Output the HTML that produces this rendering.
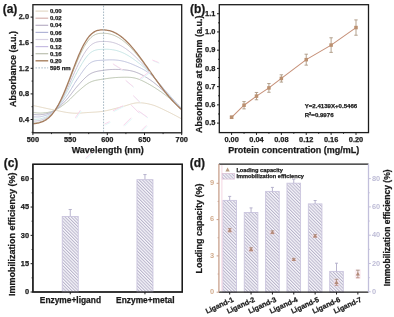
<!DOCTYPE html>
<html><head><meta charset="utf-8"><style>
html,body{margin:0;padding:0;background:#fff;width:394px;height:317px;overflow:hidden}
svg{display:block;filter:blur(0.3px);font-family:"Liberation Sans", sans-serif}
</style></head><body>
<svg width="394" height="317" viewBox="0 0 394 317">
<rect width="394" height="317" fill="#ffffff"/>
<defs><clipPath id="clipA"><rect x="33.5" y="5.3" width="147.6" height="126.9"/></clipPath><pattern id="hatch" patternUnits="userSpaceOnUse" width="2.25" height="2.25" patternTransform="rotate(-45)"><rect width="2.25" height="2.25" fill="#f7f6fb"/><rect x="0" y="0" width="1.0" height="2.25" fill="#b9b5cb"/></pattern><pattern id="hatchL" patternUnits="userSpaceOnUse" width="2.25" height="2.25" patternTransform="rotate(-45)"><rect width="2.25" height="2.25" fill="#f7f6fb"/><rect x="0" y="0" width="1.0" height="2.25" fill="#b9b5cb"/></pattern></defs>
<g clip-path="url(#clipA)" fill="none">
<polyline points="32.90,105.42 33.64,105.58 34.39,105.74 35.13,105.90 35.88,106.07 36.62,106.23 37.36,106.40 38.11,106.56 38.85,106.72 39.60,106.89 40.34,107.05 41.08,107.22 41.83,107.38 42.57,107.55 43.32,107.71 44.06,107.88 44.80,108.04 45.55,108.20 46.29,108.36 47.04,108.52 47.78,108.68 48.52,108.84 49.27,109.00 50.01,109.15 50.76,109.30 51.50,109.46 52.24,109.61 52.99,109.75 53.73,109.90 54.48,110.05 55.22,110.20 55.96,110.35 56.71,110.50 57.45,110.65 58.20,110.81 58.94,110.96 59.68,111.11 60.43,111.27 61.17,111.42 61.92,111.57 62.66,111.71 63.40,111.85 64.15,111.99 64.89,112.13 65.64,112.25 66.38,112.38 67.12,112.49 67.87,112.61 68.61,112.71 69.36,112.80 70.10,112.89 70.84,112.97 71.59,113.04 72.33,113.10 73.08,113.15 73.82,113.18 74.56,113.21 75.31,113.22 76.05,113.22 76.80,113.21 77.54,113.19 78.28,113.17 79.03,113.14 79.77,113.10 80.52,113.06 81.26,113.01 82.00,112.96 82.75,112.90 83.49,112.84 84.24,112.79 84.98,112.73 85.72,112.67 86.47,112.61 87.21,112.56 87.96,112.51 88.70,112.46 89.44,112.42 90.19,112.37 90.93,112.33 91.68,112.29 92.42,112.25 93.16,112.21 93.91,112.17 94.65,112.12 95.40,112.08 96.14,112.03 96.88,111.97 97.63,111.91 98.37,111.85 99.12,111.78 99.86,111.70 100.60,111.61 101.35,111.52 102.09,111.41 102.84,111.30 103.58,111.18 104.32,111.05 105.07,110.91 105.81,110.76 106.56,110.61 107.30,110.45 108.04,110.29 108.79,110.12 109.53,109.95 110.28,109.77 111.02,109.59 111.76,109.40 112.51,109.21 113.25,109.02 114.00,108.83 114.74,108.64 115.48,108.44 116.23,108.24 116.97,108.05 117.72,107.85 118.46,107.66 119.20,107.46 119.95,107.27 120.69,107.08 121.44,106.89 122.18,106.70 122.92,106.51 123.67,106.30 124.41,106.08 125.16,105.86 125.90,105.62 126.64,105.39 127.39,105.15 128.13,104.91 128.88,104.67 129.62,104.44 130.36,104.21 131.11,103.99 131.85,103.79 132.60,103.60 133.34,103.42 134.08,103.26 134.83,103.13 135.57,103.01 136.32,102.92 137.06,102.86 137.80,102.82 138.55,102.80 139.29,102.79 140.04,102.80 140.78,102.83 141.52,102.87 142.27,102.93 143.01,103.00 143.76,103.08 144.50,103.18 145.24,103.29 145.99,103.41 146.73,103.55 147.48,103.69 148.22,103.85 148.96,104.02 149.71,104.19 150.45,104.38 151.20,104.58 151.94,104.78 152.68,105.00 153.43,105.23 154.17,105.48 154.92,105.75 155.66,106.03 156.40,106.33 157.15,106.64 157.89,106.96 158.64,107.28 159.38,107.62 160.12,107.96 160.87,108.31 161.61,108.67 162.36,109.02 163.10,109.38 163.84,109.75 164.59,110.11 165.33,110.47 166.08,110.83 166.82,111.18 167.56,111.54 168.31,111.90 169.05,112.26 169.80,112.63 170.54,113.01 171.28,113.39 172.03,113.77 172.77,114.16 173.52,114.55 174.26,114.94 175.00,115.33 175.75,115.73 176.49,116.12 177.24,116.52 177.98,116.91 178.72,117.30 179.47,117.70 180.21,118.09 180.96,118.47 181.70,118.86" stroke="#e2d6c0" stroke-width="1.0"/>
<polyline points="32.90,112.54 33.64,112.58 34.39,112.65 35.13,112.71 35.88,112.79 36.62,112.86 37.36,112.93 38.11,112.99 38.85,113.04 39.60,113.07 40.34,113.08 41.08,113.06 41.83,113.02 42.57,112.96 43.32,112.89 44.06,112.83 44.80,112.76 45.55,112.69 46.29,112.61 47.04,112.52 47.78,112.41 48.52,112.29 49.27,112.14 50.01,111.98 50.76,111.80 51.50,111.59 52.24,111.35 52.99,111.09 53.73,110.79 54.48,110.46 55.22,110.10 55.96,109.73 56.71,109.32 57.45,108.90 58.20,108.46 58.94,108.00 59.68,107.52 60.43,107.02 61.17,106.51 61.92,105.98 62.66,105.44 63.40,104.89 64.15,104.33 64.89,103.76 65.64,103.18 66.38,102.59 67.12,101.98 67.87,101.33 68.61,100.65 69.36,99.95 70.10,99.22 70.84,98.47 71.59,97.71 72.33,96.95 73.08,96.19 73.82,95.43 74.56,94.68 75.31,93.95 76.05,93.24 76.80,92.55 77.54,91.89 78.28,91.25 79.03,90.60 79.77,89.94 80.52,89.29 81.26,88.64 82.00,88.00 82.75,87.36 83.49,86.74 84.24,86.13 84.98,85.54 85.72,84.98 86.47,84.44 87.21,83.92 87.96,83.44 88.70,82.99 89.44,82.58 90.19,82.21 90.93,81.87 91.68,81.57 92.42,81.29 93.16,81.04 93.91,80.81 94.65,80.61 95.40,80.42 96.14,80.26 96.88,80.10 97.63,79.97 98.37,79.84 99.12,79.72 99.86,79.61 100.60,79.50 101.35,79.39 102.09,79.28 102.84,79.17 103.58,79.06 104.32,78.94 105.07,78.82 105.81,78.71 106.56,78.59 107.30,78.48 108.04,78.38 108.79,78.28 109.53,78.18 110.28,78.09 111.02,78.00 111.76,77.92 112.51,77.84 113.25,77.76 114.00,77.69 114.74,77.63 115.48,77.57 116.23,77.52 116.97,77.47 117.72,77.43 118.46,77.39 119.20,77.36 119.95,77.34 120.69,77.32 121.44,77.30 122.18,77.28 122.92,77.26 123.67,77.25 124.41,77.24 125.16,77.23 125.90,77.22 126.64,77.23 127.39,77.24 128.13,77.26 128.88,77.29 129.62,77.33 130.36,77.39 131.11,77.46 131.85,77.54 132.60,77.65 133.34,77.77 134.08,77.90 134.83,78.06 135.57,78.25 136.32,78.45 137.06,78.67 137.80,78.92 138.55,79.18 139.29,79.46 140.04,79.76 140.78,80.07 141.52,80.40 142.27,80.74 143.01,81.09 143.76,81.46 144.50,81.83 145.24,82.22 145.99,82.61 146.73,83.01 147.48,83.42 148.22,83.83 148.96,84.25 149.71,84.67 150.45,85.09 151.20,85.52 151.94,85.95 152.68,86.39 153.43,86.84 154.17,87.29 154.92,87.76 155.66,88.23 156.40,88.72 157.15,89.21 157.89,89.70 158.64,90.21 159.38,90.72 160.12,91.23 160.87,91.76 161.61,92.28 162.36,92.82 163.10,93.36 163.84,93.90 164.59,94.45 165.33,95.00 166.08,95.56 166.82,96.12 167.56,96.69 168.31,97.27 169.05,97.86 169.80,98.46 170.54,99.07 171.28,99.68 172.03,100.29 172.77,100.91 173.52,101.54 174.26,102.16 175.00,102.79 175.75,103.42 176.49,104.05 177.24,104.68 177.98,105.31 178.72,105.94 179.47,106.56 180.21,107.19 180.96,107.80 181.70,108.17" stroke="#b8c2ad" stroke-width="1.0"/>
<polyline points="32.90,114.50 33.64,114.52 34.39,114.55 35.13,114.60 35.88,114.64 36.62,114.69 37.36,114.73 38.11,114.77 38.85,114.78 39.60,114.78 40.34,114.74 41.08,114.68 41.83,114.57 42.57,114.45 43.32,114.33 44.06,114.20 44.80,114.07 45.55,113.94 46.29,113.79 47.04,113.62 47.78,113.44 48.52,113.24 49.27,113.02 50.01,112.77 50.76,112.49 51.50,112.18 52.24,111.84 52.99,111.45 53.73,111.03 54.48,110.57 55.22,110.07 55.96,109.55 56.71,108.99 57.45,108.41 58.20,107.80 58.94,107.17 59.68,106.51 60.43,105.83 61.17,105.14 61.92,104.43 62.66,103.70 63.40,102.96 64.15,102.20 64.89,101.44 65.64,100.67 66.38,99.89 67.12,99.08 67.87,98.22 68.61,97.33 69.36,96.41 70.10,95.45 70.84,94.48 71.59,93.50 72.33,92.51 73.08,91.52 73.82,90.54 74.56,89.58 75.31,88.63 76.05,87.72 76.80,86.84 77.54,86.00 78.28,85.18 79.03,84.36 79.77,83.54 80.52,82.71 81.26,81.90 82.00,81.09 82.75,80.30 83.49,79.52 84.24,78.77 84.98,78.04 85.72,77.34 86.47,76.67 87.21,76.03 87.96,75.44 88.70,74.89 89.44,74.38 90.19,73.93 90.93,73.52 91.68,73.14 92.42,72.80 93.16,72.50 93.91,72.22 94.65,71.98 95.40,71.75 96.14,71.55 96.88,71.38 97.63,71.22 98.37,71.07 99.12,70.94 99.86,70.82 100.60,70.70 101.35,70.60 102.09,70.49 102.84,70.39 103.58,70.28 104.32,70.18 105.07,70.07 105.81,69.98 106.56,69.89 107.30,69.81 108.04,69.74 108.79,69.68 109.53,69.62 110.28,69.57 111.02,69.53 111.76,69.49 112.51,69.46 113.25,69.44 114.00,69.43 114.74,69.42 115.48,69.42 116.23,69.43 116.97,69.44 117.72,69.46 118.46,69.48 119.20,69.51 119.95,69.55 120.69,69.59 121.44,69.64 122.18,69.69 122.92,69.74 123.67,69.80 124.41,69.87 125.16,69.94 125.90,70.01 126.64,70.10 127.39,70.20 128.13,70.30 128.88,70.42 129.62,70.54 130.36,70.68 131.11,70.84 131.85,71.01 132.60,71.19 133.34,71.39 134.08,71.60 134.83,71.84 135.57,72.09 136.32,72.36 137.06,72.64 137.80,72.95 138.55,73.26 139.29,73.60 140.04,73.94 140.78,74.30 141.52,74.68 142.27,75.07 143.01,75.47 143.76,75.88 144.50,76.30 145.24,76.74 145.99,77.19 146.73,77.65 147.48,78.12 148.22,78.60 148.96,79.09 149.71,79.59 150.45,80.10 151.20,80.62 151.94,81.15 152.68,81.70 153.43,82.27 154.17,82.85 154.92,83.44 155.66,84.05 156.40,84.67 157.15,85.30 157.89,85.94 158.64,86.59 159.38,87.25 160.12,87.91 160.87,88.58 161.61,89.25 162.36,89.93 163.10,90.61 163.84,91.29 164.59,91.97 165.33,92.65 166.08,93.33 166.82,94.01 167.56,94.70 168.31,95.40 169.05,96.10 169.80,96.81 170.54,97.52 171.28,98.24 172.03,98.97 172.77,99.69 173.52,100.42 174.26,101.15 175.00,101.89 175.75,102.62 176.49,103.36 177.24,104.09 177.98,104.82 178.72,105.56 179.47,106.29 180.21,107.01 180.96,107.74 181.70,108.17" stroke="#b3adc2" stroke-width="1.0"/>
<polyline points="32.90,116.91 33.64,116.89 34.39,116.89 35.13,116.90 35.88,116.91 36.62,116.93 37.36,116.94 38.11,116.94 38.85,116.92 39.60,116.86 40.34,116.78 41.08,116.65 41.83,116.48 42.57,116.28 43.32,116.09 44.06,115.89 44.80,115.68 45.55,115.46 46.29,115.23 47.04,114.98 47.78,114.71 48.52,114.42 49.27,114.09 50.01,113.74 50.76,113.34 51.50,112.91 52.24,112.43 52.99,111.91 53.73,111.33 54.48,110.71 55.22,110.04 55.96,109.33 56.71,108.59 57.45,107.81 58.20,106.99 58.94,106.15 59.68,105.28 60.43,104.38 61.17,103.46 61.92,102.52 62.66,101.56 63.40,100.58 64.15,99.60 64.89,98.60 65.64,97.59 66.38,96.57 67.12,95.53 67.87,94.43 68.61,93.28 69.36,92.09 70.10,90.87 70.84,89.63 71.59,88.38 72.33,87.12 73.08,85.86 73.82,84.61 74.56,83.38 75.31,82.18 76.05,81.00 76.80,79.87 77.54,78.79 78.28,77.73 79.03,76.65 79.77,75.57 80.52,74.48 81.26,73.39 82.00,72.32 82.75,71.27 83.49,70.23 84.24,69.23 84.98,68.26 85.72,67.34 86.47,66.46 87.21,65.64 87.96,64.88 88.70,64.19 89.44,63.57 90.19,63.03 90.93,62.55 91.68,62.14 92.42,61.79 93.16,61.49 93.91,61.23 94.65,61.02 95.40,60.85 96.14,60.71 96.88,60.60 97.63,60.52 98.37,60.45 99.12,60.41 99.86,60.37 100.60,60.34 101.35,60.31 102.09,60.29 102.84,60.25 103.58,60.21 104.32,60.15 105.07,60.09 105.81,60.04 106.56,59.99 107.30,59.95 108.04,59.92 108.79,59.89 109.53,59.87 110.28,59.86 111.02,59.85 111.76,59.86 112.51,59.87 113.25,59.89 114.00,59.92 114.74,59.96 115.48,60.01 116.23,60.07 116.97,60.14 117.72,60.22 118.46,60.31 119.20,60.42 119.95,60.53 120.69,60.66 121.44,60.80 122.18,60.96 122.92,61.13 123.67,61.31 124.41,61.50 125.16,61.71 125.90,61.93 126.64,62.16 127.39,62.40 128.13,62.65 128.88,62.91 129.62,63.18 130.36,63.46 131.11,63.75 131.85,64.05 132.60,64.36 133.34,64.68 134.08,65.00 134.83,65.33 135.57,65.67 136.32,66.01 137.06,66.36 137.80,66.70 138.55,67.05 139.29,67.41 140.04,67.77 140.78,68.14 141.52,68.52 142.27,68.90 143.01,69.30 143.76,69.72 144.50,70.15 145.24,70.59 145.99,71.05 146.73,71.53 147.48,72.03 148.22,72.55 148.96,73.10 149.71,73.67 150.45,74.27 151.20,74.89 151.94,75.55 152.68,76.24 153.43,76.97 154.17,77.72 154.92,78.50 155.66,79.30 156.40,80.12 157.15,80.96 157.89,81.82 158.64,82.69 159.38,83.57 160.12,84.45 160.87,85.34 161.61,86.23 162.36,87.11 163.10,87.99 163.84,88.87 164.59,89.73 165.33,90.59 166.08,91.42 166.82,92.25 167.56,93.08 168.31,93.92 169.05,94.75 169.80,95.58 170.54,96.42 171.28,97.25 172.03,98.09 172.77,98.92 173.52,99.76 174.26,100.59 175.00,101.43 175.75,102.27 176.49,103.10 177.24,103.94 177.98,104.78 178.72,105.61 179.47,106.45 180.21,107.28 180.96,108.12 181.70,108.62" stroke="#bcc0dc" stroke-width="1.0"/>
<polyline points="32.90,119.40 33.64,119.36 34.39,119.33 35.13,119.30 35.88,119.27 36.62,119.24 37.36,119.20 38.11,119.14 38.85,119.06 39.60,118.96 40.34,118.82 41.08,118.65 41.83,118.45 42.57,118.21 43.32,117.96 44.06,117.70 44.80,117.42 45.55,117.13 46.29,116.81 47.04,116.46 47.78,116.08 48.52,115.67 49.27,115.23 50.01,114.74 50.76,114.22 51.50,113.65 52.24,113.03 52.99,112.36 53.73,111.64 54.48,110.87 55.22,110.05 55.96,109.18 56.71,108.27 57.45,107.31 58.20,106.31 58.94,105.27 59.68,104.20 60.43,103.08 61.17,101.94 61.92,100.76 62.66,99.55 63.40,98.32 64.15,97.06 64.89,95.78 65.64,94.48 66.38,93.16 67.12,91.81 67.87,90.42 68.61,88.99 69.36,87.53 70.10,86.04 70.84,84.54 71.59,83.03 72.33,81.51 73.08,80.00 73.82,78.49 74.56,77.01 75.31,75.54 76.05,74.11 76.80,72.71 77.54,71.36 78.28,70.03 79.03,68.71 79.77,67.40 80.52,66.11 81.26,64.84 82.00,63.59 82.75,62.38 83.49,61.20 84.24,60.06 84.98,58.98 85.72,57.94 86.47,56.95 87.21,56.03 87.96,55.17 88.70,54.38 89.44,53.66 90.19,53.02 90.93,52.44 91.68,51.93 92.42,51.48 93.16,51.09 93.91,50.74 94.65,50.45 95.40,50.20 96.14,50.00 96.88,49.83 97.63,49.69 98.37,49.59 99.12,49.51 99.86,49.45 100.60,49.41 101.35,49.38 102.09,49.35 102.84,49.33 103.58,49.31 104.32,49.28 105.07,49.26 105.81,49.25 106.56,49.25 107.30,49.26 108.04,49.29 108.79,49.33 109.53,49.38 110.28,49.44 111.02,49.52 111.76,49.61 112.51,49.72 113.25,49.84 114.00,49.97 114.74,50.12 115.48,50.29 116.23,50.47 116.97,50.67 117.72,50.88 118.46,51.11 119.20,51.35 119.95,51.62 120.69,51.89 121.44,52.19 122.18,52.50 122.92,52.83 123.67,53.17 124.41,53.53 125.16,53.91 125.90,54.30 126.64,54.71 127.39,55.13 128.13,55.56 128.88,56.01 129.62,56.47 130.36,56.95 131.11,57.44 131.85,57.93 132.60,58.44 133.34,58.96 134.08,59.50 134.83,60.04 135.57,60.59 136.32,61.15 137.06,61.71 137.80,62.28 138.55,62.86 139.29,63.44 140.04,64.03 140.78,64.63 141.52,65.23 142.27,65.85 143.01,66.48 143.76,67.11 144.50,67.76 145.24,68.42 145.99,69.10 146.73,69.79 147.48,70.49 148.22,71.20 148.96,71.93 149.71,72.68 150.45,73.44 151.20,74.22 151.94,75.03 152.68,75.85 153.43,76.69 154.17,77.55 154.92,78.43 155.66,79.32 156.40,80.22 157.15,81.13 157.89,82.05 158.64,82.97 159.38,83.90 160.12,84.82 160.87,85.75 161.61,86.68 162.36,87.60 163.10,88.51 163.84,89.42 164.59,90.31 165.33,91.20 166.08,92.07 166.82,92.93 167.56,93.78 168.31,94.64 169.05,95.49 169.80,96.34 170.54,97.18 171.28,98.02 172.03,98.85 172.77,99.68 173.52,100.50 174.26,101.32 175.00,102.14 175.75,102.95 176.49,103.75 177.24,104.55 177.98,105.35 178.72,106.14 179.47,106.92 180.21,107.70 180.96,108.47 181.70,109.03" stroke="#c4e4e4" stroke-width="1.0"/>
<polyline points="32.90,121.19 33.64,121.14 34.39,121.09 35.13,121.04 35.88,120.98 36.62,120.91 37.36,120.83 38.11,120.73 38.85,120.61 39.60,120.47 40.34,120.30 41.08,120.10 41.83,119.86 42.57,119.60 43.32,119.32 44.06,119.01 44.80,118.69 45.55,118.33 46.29,117.94 47.04,117.52 47.78,117.07 48.52,116.58 49.27,116.05 50.01,115.47 50.76,114.85 51.50,114.18 52.24,113.46 52.99,112.69 53.73,111.86 54.48,110.98 55.22,110.05 55.96,109.07 56.71,108.03 57.45,106.95 58.20,105.82 58.94,104.64 59.68,103.41 60.43,102.15 61.17,100.84 61.92,99.49 62.66,98.10 63.40,96.68 64.15,95.22 64.89,93.74 65.64,92.23 66.38,90.69 67.12,89.13 67.87,87.53 68.61,85.89 69.36,84.23 70.10,82.56 70.84,80.86 71.59,79.16 72.33,77.46 73.08,75.76 73.82,74.07 74.56,72.40 75.31,70.75 76.05,69.13 76.80,67.54 77.54,65.99 78.28,64.48 79.03,62.98 79.77,61.51 80.52,60.06 81.26,58.65 82.00,57.28 82.75,55.96 83.49,54.68 84.24,53.44 84.98,52.27 85.72,51.15 86.47,50.09 87.21,49.09 87.96,48.16 88.70,47.30 89.44,46.51 90.19,45.79 90.93,45.14 91.68,44.56 92.42,44.03 93.16,43.57 93.91,43.17 94.65,42.81 95.40,42.51 96.14,42.26 96.88,42.05 97.63,41.87 98.37,41.74 99.12,41.64 99.86,41.56 100.60,41.51 101.35,41.48 102.09,41.46 102.84,41.45 103.58,41.44 104.32,41.43 105.07,41.44 105.81,41.46 106.56,41.49 107.30,41.55 108.04,41.61 108.79,41.70 109.53,41.80 110.28,41.92 111.02,42.06 111.76,42.21 112.51,42.39 113.25,42.58 114.00,42.79 114.74,43.02 115.48,43.27 116.23,43.54 116.97,43.83 117.72,44.14 118.46,44.46 119.20,44.81 119.95,45.18 120.69,45.56 121.44,45.97 122.18,46.39 122.92,46.84 123.67,47.30 124.41,47.78 125.16,48.28 125.90,48.80 126.64,49.33 127.39,49.88 128.13,50.45 128.88,51.03 129.62,51.63 130.36,52.24 131.11,52.87 131.85,53.51 132.60,54.17 133.34,54.84 134.08,55.52 134.83,56.21 135.57,56.92 136.32,57.63 137.06,58.35 137.80,59.08 138.55,59.82 139.29,60.57 140.04,61.33 140.78,62.09 141.52,62.86 142.27,63.65 143.01,64.44 143.76,65.24 144.50,66.04 145.24,66.86 145.99,67.69 146.73,68.52 147.48,69.37 148.22,70.23 148.96,71.09 149.71,71.96 150.45,72.85 151.20,73.74 151.94,74.65 152.68,75.57 153.43,76.50 154.17,77.44 154.92,78.38 155.66,79.33 156.40,80.29 157.15,81.25 157.89,82.21 158.64,83.17 159.38,84.14 160.12,85.09 160.87,86.05 161.61,87.00 162.36,87.95 163.10,88.88 163.84,89.81 164.59,90.73 165.33,91.64 166.08,92.53 166.82,93.41 167.56,94.29 168.31,95.16 169.05,96.02 169.80,96.88 170.54,97.73 171.28,98.57 172.03,99.40 172.77,100.22 173.52,101.04 174.26,101.85 175.00,102.65 175.75,103.44 176.49,104.22 177.24,104.99 177.98,105.76 178.72,106.51 179.47,107.26 180.21,108.00 180.96,108.73 181.70,109.32" stroke="#c9c1d6" stroke-width="1.0"/>
<polyline points="32.90,123.05 33.64,122.99 34.39,122.92 35.13,122.84 35.88,122.75 36.62,122.64 37.36,122.52 38.11,122.38 38.85,122.22 39.60,122.04 40.34,121.83 41.08,121.60 41.83,121.34 42.57,121.05 43.32,120.73 44.06,120.38 44.80,119.99 45.55,119.58 46.29,119.12 47.04,118.63 47.78,118.10 48.52,117.52 49.27,116.90 50.01,116.23 50.76,115.51 51.50,114.73 52.24,113.91 52.99,113.03 53.73,112.10 54.48,111.10 55.22,110.06 55.96,108.95 56.71,107.79 57.45,106.58 58.20,105.31 58.94,103.98 59.68,102.60 60.43,101.17 61.17,99.69 61.92,98.17 62.66,96.59 63.40,94.98 64.15,93.32 64.89,91.62 65.64,89.89 66.38,88.13 67.12,86.34 67.87,84.52 68.61,82.68 69.36,80.81 70.10,78.93 70.84,77.04 71.59,75.15 72.33,73.25 73.08,71.36 73.82,69.48 74.56,67.62 75.31,65.78 76.05,63.96 76.80,62.17 77.54,60.42 78.28,58.70 79.03,57.02 79.77,55.38 80.52,53.79 81.26,52.23 82.00,50.74 82.75,49.29 83.49,47.90 84.24,46.57 84.98,45.30 85.72,44.10 86.47,42.96 87.21,41.88 87.96,40.88 88.70,39.95 89.44,39.08 90.19,38.29 90.93,37.56 91.68,36.90 92.42,36.30 93.16,35.77 93.91,35.30 94.65,34.88 95.40,34.52 96.14,34.22 96.88,33.96 97.63,33.75 98.37,33.59 99.12,33.46 99.86,33.37 100.60,33.31 101.35,33.27 102.09,33.26 102.84,33.26 103.58,33.27 104.32,33.29 105.07,33.32 105.81,33.37 106.56,33.44 107.30,33.53 108.04,33.64 108.79,33.78 109.53,33.93 110.28,34.11 111.02,34.31 111.76,34.53 112.51,34.77 113.25,35.04 114.00,35.33 114.74,35.65 115.48,35.98 116.23,36.34 116.97,36.73 117.72,37.13 118.46,37.56 119.20,38.02 119.95,38.49 120.69,38.99 121.44,39.51 122.18,40.05 122.92,40.61 123.67,41.20 124.41,41.80 125.16,42.43 125.90,43.08 126.64,43.74 127.39,44.43 128.13,45.14 128.88,45.86 129.62,46.60 130.36,47.36 131.11,48.13 131.85,48.93 132.60,49.73 133.34,50.55 134.08,51.39 134.83,52.24 135.57,53.11 136.32,53.98 137.06,54.87 137.80,55.77 138.55,56.67 139.29,57.59 140.04,58.52 140.78,59.46 141.52,60.40 142.27,61.36 143.01,62.32 143.76,63.28 144.50,64.26 145.24,65.24 145.99,66.22 146.73,67.22 147.48,68.21 148.22,69.21 148.96,70.21 149.71,71.22 150.45,72.23 151.20,73.24 151.94,74.26 152.68,75.28 153.43,76.29 154.17,77.31 154.92,78.33 155.66,79.35 156.40,80.36 157.15,81.37 157.89,82.38 158.64,83.39 159.38,84.38 160.12,85.38 160.87,86.36 161.61,87.34 162.36,88.31 163.10,89.27 163.84,90.22 164.59,91.16 165.33,92.09 166.08,93.01 166.82,93.92 167.56,94.82 168.31,95.70 169.05,96.58 169.80,97.44 170.54,98.30 171.28,99.14 172.03,99.97 172.77,100.79 173.52,101.60 174.26,102.39 175.00,103.18 175.75,103.95 176.49,104.71 177.24,105.45 177.98,106.18 178.72,106.91 179.47,107.61 180.21,108.31 180.96,108.99 181.70,109.62" stroke="#bcc0ac" stroke-width="1.0"/>
<polyline points="32.90,123.81 33.64,123.74 34.39,123.66 35.13,123.57 35.88,123.47 36.62,123.35 37.36,123.21 38.11,123.05 38.85,122.88 39.60,122.68 40.34,122.46 41.08,122.21 41.83,121.94 42.57,121.63 43.32,121.30 44.06,120.93 44.80,120.53 45.55,120.09 46.29,119.61 47.04,119.08 47.78,118.52 48.52,117.90 49.27,117.24 50.01,116.53 50.76,115.77 51.50,114.96 52.24,114.09 52.99,113.17 53.73,112.19 54.48,111.15 55.22,110.06 55.96,108.91 56.71,107.70 57.45,106.43 58.20,105.10 58.94,103.71 59.68,102.27 60.43,100.78 61.17,99.23 61.92,97.63 62.66,95.98 63.40,94.28 64.15,92.54 64.89,90.76 65.64,88.94 66.38,87.09 67.12,85.21 67.87,83.30 68.61,81.37 69.36,79.42 70.10,77.46 70.84,75.49 71.59,73.51 72.33,71.54 73.08,69.57 73.82,67.61 74.56,65.67 75.31,63.75 76.05,61.85 76.80,59.99 77.54,58.15 78.28,56.35 79.03,54.60 79.77,52.89 80.52,51.23 81.26,49.62 82.00,48.07 82.75,46.57 83.49,45.14 84.24,43.77 84.98,42.46 85.72,41.22 86.47,40.05 87.21,38.95 87.96,37.91 88.70,36.95 89.44,36.05 90.19,35.23 90.93,34.47 91.68,33.78 92.42,33.15 93.16,32.59 93.91,32.09 94.65,31.65 95.40,31.27 96.14,30.95 96.88,30.67 97.63,30.45 98.37,30.27 99.12,30.13 99.86,30.03 100.60,29.97 101.35,29.93 102.09,29.92 102.84,29.92 103.58,29.94 104.32,29.96 105.07,30.01 105.81,30.07 106.56,30.16 107.30,30.27 108.04,30.40 108.79,30.55 109.53,30.73 110.28,30.93 111.02,31.15 111.76,31.40 112.51,31.67 113.25,31.97 114.00,32.29 114.74,32.64 115.48,33.01 116.23,33.41 116.97,33.83 117.72,34.28 118.46,34.75 119.20,35.25 119.95,35.77 120.69,36.31 121.44,36.88 122.18,37.46 122.92,38.08 123.67,38.71 124.41,39.37 125.16,40.05 125.90,40.75 126.64,41.47 127.39,42.21 128.13,42.97 128.88,43.75 129.62,44.55 130.36,45.37 131.11,46.20 131.85,47.06 132.60,47.92 133.34,48.81 134.08,49.71 134.83,50.62 135.57,51.55 136.32,52.49 137.06,53.45 137.80,54.41 138.55,55.39 139.29,56.38 140.04,57.38 140.78,58.38 141.52,59.40 142.27,60.42 143.01,61.45 143.76,62.49 144.50,63.53 145.24,64.58 145.99,65.63 146.73,66.68 147.48,67.74 148.22,68.80 148.96,69.86 149.71,70.92 150.45,71.98 151.20,73.04 151.94,74.10 152.68,75.16 153.43,76.21 154.17,77.26 154.92,78.31 155.66,79.35 156.40,80.39 157.15,81.43 157.89,82.45 158.64,83.47 159.38,84.49 160.12,85.49 160.87,86.49 161.61,87.48 162.36,88.46 163.10,89.43 163.84,90.39 164.59,91.34 165.33,92.28 166.08,93.21 166.82,94.12 167.56,95.03 168.31,95.92 169.05,96.81 169.80,97.67 170.54,98.53 171.28,99.38 172.03,100.21 172.77,101.02 173.52,101.83 174.26,102.62 175.00,103.39 175.75,104.16 176.49,104.90 177.24,105.64 177.98,106.36 178.72,107.07 179.47,107.76 180.21,108.43 180.96,109.10 181.70,109.75" stroke="#a67c5e" stroke-width="1.3"/>
</g>
<line x1="113.70" y1="64.60" x2="123.90" y2="71.00" stroke="#e0fafa" stroke-width="1.0"/>
<line x1="112.90" y1="63.80" x2="123.10" y2="70.20" stroke="#fad2ea" stroke-width="0.9"/>
<line x1="126.40" y1="81.10" x2="134.00" y2="87.50" stroke="#e0fafa" stroke-width="1.0"/>
<line x1="125.60" y1="80.30" x2="133.20" y2="86.70" stroke="#fad2ea" stroke-width="0.9"/>
<line x1="134.00" y1="96.30" x2="140.40" y2="102.70" stroke="#e0fafa" stroke-width="1.0"/>
<line x1="133.20" y1="95.50" x2="139.60" y2="101.90" stroke="#fad2ea" stroke-width="0.9"/>
<line x1="140.40" y1="79.80" x2="150.50" y2="72.20" stroke="#e0fafa" stroke-width="1.0"/>
<line x1="139.60" y1="79.00" x2="149.70" y2="71.40" stroke="#fad2ea" stroke-width="0.9"/>
<line x1="113.70" y1="111.60" x2="123.90" y2="106.50" stroke="#e0fafa" stroke-width="1.0"/>
<line x1="112.90" y1="110.80" x2="123.10" y2="105.70" stroke="#fad2ea" stroke-width="0.9"/>
<line x1="139.10" y1="111.60" x2="148.00" y2="117.90" stroke="#e0fafa" stroke-width="1.0"/>
<line x1="138.30" y1="110.80" x2="147.20" y2="117.10" stroke="#fad2ea" stroke-width="0.9"/>
<line x1="153.10" y1="60.80" x2="159.40" y2="63.30" stroke="#e0fafa" stroke-width="1.0"/>
<line x1="152.30" y1="60.00" x2="158.60" y2="62.50" stroke="#fad2ea" stroke-width="0.9"/>
<line x1="76.10" y1="118.60" x2="81.20" y2="111.00" stroke="#e0fafa" stroke-width="1.0"/>
<line x1="75.30" y1="117.80" x2="80.40" y2="110.20" stroke="#fad2ea" stroke-width="0.9"/>
<line x1="86.30" y1="159.20" x2="93.90" y2="151.60" stroke="#e0fafa" stroke-width="1.0"/>
<line x1="85.50" y1="158.40" x2="93.10" y2="150.80" stroke="#fad2ea" stroke-width="0.9"/>
<line x1="105.30" y1="124.90" x2="110.40" y2="122.40" stroke="#e0fafa" stroke-width="1.0"/>
<line x1="104.50" y1="124.10" x2="109.60" y2="121.60" stroke="#fad2ea" stroke-width="0.9"/>
<line x1="124.30" y1="126.20" x2="131.90" y2="118.60" stroke="#e0fafa" stroke-width="1.0"/>
<line x1="123.50" y1="125.40" x2="131.10" y2="117.80" stroke="#fad2ea" stroke-width="0.9"/>
<line x1="131.90" y1="105.80" x2="139.60" y2="113.50" stroke="#e0fafa" stroke-width="1.0"/>
<line x1="131.10" y1="105.00" x2="138.80" y2="112.70" stroke="#fad2ea" stroke-width="0.9"/>
<line x1="142.10" y1="131.30" x2="147.20" y2="126.20" stroke="#e0fafa" stroke-width="1.0"/>
<line x1="141.30" y1="130.50" x2="146.40" y2="125.40" stroke="#fad2ea" stroke-width="0.9"/>
<line x1="103.58" y1="5.70" x2="103.58" y2="131.80" stroke="#a6b8c4" stroke-width="1.0" stroke-dasharray="1.6,1.3"/>
<rect x="32.9" y="4.7" width="148.80" height="128.10" fill="none" stroke="#1c1c1c" stroke-width="1.3"/>
<line x1="30.60" y1="119.50" x2="32.90" y2="119.50" stroke="#1c1c1c" stroke-width="1.0"/>
<text x="29.00" y="121.70" font-size="7.4" font-weight="bold" text-anchor="end" fill="#1a1a1a" stroke="#1a1a1a" stroke-width="0.25">0.4</text>
<line x1="30.60" y1="93.90" x2="32.90" y2="93.90" stroke="#1c1c1c" stroke-width="1.0"/>
<text x="29.00" y="96.10" font-size="7.4" font-weight="bold" text-anchor="end" fill="#1a1a1a" stroke="#1a1a1a" stroke-width="0.25">0.8</text>
<line x1="30.60" y1="68.30" x2="32.90" y2="68.30" stroke="#1c1c1c" stroke-width="1.0"/>
<text x="29.00" y="70.50" font-size="7.4" font-weight="bold" text-anchor="end" fill="#1a1a1a" stroke="#1a1a1a" stroke-width="0.25">1.2</text>
<line x1="30.60" y1="42.70" x2="32.90" y2="42.70" stroke="#1c1c1c" stroke-width="1.0"/>
<text x="29.00" y="44.90" font-size="7.4" font-weight="bold" text-anchor="end" fill="#1a1a1a" stroke="#1a1a1a" stroke-width="0.25">1.6</text>
<line x1="30.60" y1="17.10" x2="32.90" y2="17.10" stroke="#1c1c1c" stroke-width="1.0"/>
<text x="29.00" y="19.30" font-size="7.4" font-weight="bold" text-anchor="end" fill="#1a1a1a" stroke="#1a1a1a" stroke-width="0.25">2.0</text>
<line x1="31.60" y1="132.30" x2="32.90" y2="132.30" stroke="#1c1c1c" stroke-width="0.9"/>
<line x1="31.60" y1="106.70" x2="32.90" y2="106.70" stroke="#1c1c1c" stroke-width="0.9"/>
<line x1="31.60" y1="81.10" x2="32.90" y2="81.10" stroke="#1c1c1c" stroke-width="0.9"/>
<line x1="31.60" y1="55.50" x2="32.90" y2="55.50" stroke="#1c1c1c" stroke-width="0.9"/>
<line x1="31.60" y1="29.90" x2="32.90" y2="29.90" stroke="#1c1c1c" stroke-width="0.9"/>
<line x1="32.90" y1="132.80" x2="32.90" y2="135.10" stroke="#1c1c1c" stroke-width="1.0"/>
<text x="32.90" y="142.10" font-size="7.4" font-weight="bold" text-anchor="middle" fill="#1a1a1a" stroke="#1a1a1a" stroke-width="0.25">500</text>
<line x1="70.10" y1="132.80" x2="70.10" y2="135.10" stroke="#1c1c1c" stroke-width="1.0"/>
<text x="70.10" y="142.10" font-size="7.4" font-weight="bold" text-anchor="middle" fill="#1a1a1a" stroke="#1a1a1a" stroke-width="0.25">550</text>
<line x1="107.30" y1="132.80" x2="107.30" y2="135.10" stroke="#1c1c1c" stroke-width="1.0"/>
<text x="107.30" y="142.10" font-size="7.4" font-weight="bold" text-anchor="middle" fill="#1a1a1a" stroke="#1a1a1a" stroke-width="0.25">600</text>
<line x1="144.50" y1="132.80" x2="144.50" y2="135.10" stroke="#1c1c1c" stroke-width="1.0"/>
<text x="144.50" y="142.10" font-size="7.4" font-weight="bold" text-anchor="middle" fill="#1a1a1a" stroke="#1a1a1a" stroke-width="0.25">650</text>
<line x1="181.70" y1="132.80" x2="181.70" y2="135.10" stroke="#1c1c1c" stroke-width="1.0"/>
<text x="181.70" y="142.10" font-size="7.4" font-weight="bold" text-anchor="middle" fill="#1a1a1a" stroke="#1a1a1a" stroke-width="0.25">700</text>
<line x1="51.50" y1="132.80" x2="51.50" y2="134.10" stroke="#1c1c1c" stroke-width="0.9"/>
<line x1="88.70" y1="132.80" x2="88.70" y2="134.10" stroke="#1c1c1c" stroke-width="0.9"/>
<line x1="125.90" y1="132.80" x2="125.90" y2="134.10" stroke="#1c1c1c" stroke-width="0.9"/>
<line x1="163.10" y1="132.80" x2="163.10" y2="134.10" stroke="#1c1c1c" stroke-width="0.9"/>
<text x="107.80" y="153.40" font-size="9.0" font-weight="bold" text-anchor="middle" fill="#1a1a1a" stroke="#1a1a1a" stroke-width="0.25">Wavelength (nm)</text>
<text x="15.90" y="69.00" font-size="9.0" font-weight="bold" text-anchor="middle" fill="#1a1a1a" stroke="#1a1a1a" stroke-width="0.25" transform="rotate(-90 15.90 69.00)">Absorbance (a.u.)</text>
<text x="2.70" y="12.90" font-size="12.0" font-weight="bold" text-anchor="start" fill="#1a1a1a" stroke="#1a1a1a" stroke-width="0.25">(a)</text>
<line x1="35.50" y1="11.10" x2="48.20" y2="11.10" stroke="#e3d8c6" stroke-width="1.2"/>
<text x="50.00" y="13.20" font-size="6.0" font-weight="bold" text-anchor="start" fill="#1a1a1a" stroke="#1a1a1a" stroke-width="0.25">0.00</text>
<line x1="35.50" y1="18.20" x2="48.20" y2="18.20" stroke="#d6b2ae" stroke-width="1.2"/>
<text x="50.00" y="20.30" font-size="6.0" font-weight="bold" text-anchor="start" fill="#1a1a1a" stroke="#1a1a1a" stroke-width="0.25">0.02</text>
<line x1="35.50" y1="25.30" x2="48.20" y2="25.30" stroke="#b9b0c6" stroke-width="1.2"/>
<text x="50.00" y="27.40" font-size="6.0" font-weight="bold" text-anchor="start" fill="#1a1a1a" stroke="#1a1a1a" stroke-width="0.25">0.04</text>
<line x1="35.50" y1="32.40" x2="48.20" y2="32.40" stroke="#b0b4d6" stroke-width="1.2"/>
<text x="50.00" y="34.50" font-size="6.0" font-weight="bold" text-anchor="start" fill="#1a1a1a" stroke="#1a1a1a" stroke-width="0.25">0.06</text>
<line x1="35.50" y1="39.50" x2="48.20" y2="39.50" stroke="#d8d2e4" stroke-width="1.2"/>
<text x="50.00" y="41.60" font-size="6.0" font-weight="bold" text-anchor="start" fill="#1a1a1a" stroke="#1a1a1a" stroke-width="0.25">0.08</text>
<line x1="35.50" y1="46.60" x2="48.20" y2="46.60" stroke="#c6bce2" stroke-width="1.2"/>
<text x="50.00" y="48.70" font-size="6.0" font-weight="bold" text-anchor="start" fill="#1a1a1a" stroke="#1a1a1a" stroke-width="0.25">0.12</text>
<line x1="35.50" y1="53.70" x2="48.20" y2="53.70" stroke="#bcc0b0" stroke-width="1.2"/>
<text x="50.00" y="55.80" font-size="6.0" font-weight="bold" text-anchor="start" fill="#1a1a1a" stroke="#1a1a1a" stroke-width="0.25">0.16</text>
<line x1="35.50" y1="60.80" x2="48.20" y2="60.80" stroke="#a8805f" stroke-width="1.4"/>
<text x="50.00" y="62.90" font-size="6.0" font-weight="bold" text-anchor="start" fill="#1a1a1a" stroke="#1a1a1a" stroke-width="0.25">0.20</text>
<line x1="35.50" y1="67.90" x2="48.20" y2="67.90" stroke="#a6b8c4" stroke-width="1.0" stroke-dasharray="1.6,1.3"/>
<text x="50.00" y="70.00" font-size="6.0" font-weight="bold" text-anchor="start" fill="#1a1a1a" stroke="#1a1a1a" stroke-width="0.25">595 nm</text>
<rect x="219.3" y="4.7" width="149.20" height="127.90" fill="none" stroke="#1c1c1c" stroke-width="1.3"/>
<line x1="217.00" y1="123.10" x2="219.30" y2="123.10" stroke="#1c1c1c" stroke-width="1.0"/>
<text x="215.40" y="125.30" font-size="7.4" font-weight="bold" text-anchor="end" fill="#1a1a1a" stroke="#1a1a1a" stroke-width="0.25">0.5</text>
<line x1="217.00" y1="104.87" x2="219.30" y2="104.87" stroke="#1c1c1c" stroke-width="1.0"/>
<text x="215.40" y="107.07" font-size="7.4" font-weight="bold" text-anchor="end" fill="#1a1a1a" stroke="#1a1a1a" stroke-width="0.25">0.6</text>
<line x1="217.00" y1="86.64" x2="219.30" y2="86.64" stroke="#1c1c1c" stroke-width="1.0"/>
<text x="215.40" y="88.84" font-size="7.4" font-weight="bold" text-anchor="end" fill="#1a1a1a" stroke="#1a1a1a" stroke-width="0.25">0.7</text>
<line x1="217.00" y1="68.41" x2="219.30" y2="68.41" stroke="#1c1c1c" stroke-width="1.0"/>
<text x="215.40" y="70.61" font-size="7.4" font-weight="bold" text-anchor="end" fill="#1a1a1a" stroke="#1a1a1a" stroke-width="0.25">0.8</text>
<line x1="217.00" y1="50.18" x2="219.30" y2="50.18" stroke="#1c1c1c" stroke-width="1.0"/>
<text x="215.40" y="52.38" font-size="7.4" font-weight="bold" text-anchor="end" fill="#1a1a1a" stroke="#1a1a1a" stroke-width="0.25">0.9</text>
<line x1="217.00" y1="31.95" x2="219.30" y2="31.95" stroke="#1c1c1c" stroke-width="1.0"/>
<text x="215.40" y="34.15" font-size="7.4" font-weight="bold" text-anchor="end" fill="#1a1a1a" stroke="#1a1a1a" stroke-width="0.25">1.0</text>
<line x1="217.00" y1="13.72" x2="219.30" y2="13.72" stroke="#1c1c1c" stroke-width="1.0"/>
<text x="215.40" y="15.92" font-size="7.4" font-weight="bold" text-anchor="end" fill="#1a1a1a" stroke="#1a1a1a" stroke-width="0.25">1.1</text>
<line x1="218.00" y1="113.98" x2="219.30" y2="113.98" stroke="#1c1c1c" stroke-width="0.9"/>
<line x1="218.00" y1="95.75" x2="219.30" y2="95.75" stroke="#1c1c1c" stroke-width="0.9"/>
<line x1="218.00" y1="77.52" x2="219.30" y2="77.52" stroke="#1c1c1c" stroke-width="0.9"/>
<line x1="218.00" y1="59.29" x2="219.30" y2="59.29" stroke="#1c1c1c" stroke-width="0.9"/>
<line x1="218.00" y1="41.06" x2="219.30" y2="41.06" stroke="#1c1c1c" stroke-width="0.9"/>
<line x1="218.00" y1="22.83" x2="219.30" y2="22.83" stroke="#1c1c1c" stroke-width="0.9"/>
<line x1="231.60" y1="132.60" x2="231.60" y2="134.90" stroke="#1c1c1c" stroke-width="1.0"/>
<text x="231.60" y="142.10" font-size="7.4" font-weight="bold" text-anchor="middle" fill="#1a1a1a" stroke="#1a1a1a" stroke-width="0.25">0.00</text>
<line x1="256.48" y1="132.60" x2="256.48" y2="134.90" stroke="#1c1c1c" stroke-width="1.0"/>
<text x="256.48" y="142.10" font-size="7.4" font-weight="bold" text-anchor="middle" fill="#1a1a1a" stroke="#1a1a1a" stroke-width="0.25">0.04</text>
<line x1="281.36" y1="132.60" x2="281.36" y2="134.90" stroke="#1c1c1c" stroke-width="1.0"/>
<text x="281.36" y="142.10" font-size="7.4" font-weight="bold" text-anchor="middle" fill="#1a1a1a" stroke="#1a1a1a" stroke-width="0.25">0.08</text>
<line x1="306.24" y1="132.60" x2="306.24" y2="134.90" stroke="#1c1c1c" stroke-width="1.0"/>
<text x="306.24" y="142.10" font-size="7.4" font-weight="bold" text-anchor="middle" fill="#1a1a1a" stroke="#1a1a1a" stroke-width="0.25">0.12</text>
<line x1="331.12" y1="132.60" x2="331.12" y2="134.90" stroke="#1c1c1c" stroke-width="1.0"/>
<text x="331.12" y="142.10" font-size="7.4" font-weight="bold" text-anchor="middle" fill="#1a1a1a" stroke="#1a1a1a" stroke-width="0.25">0.16</text>
<line x1="356.00" y1="132.60" x2="356.00" y2="134.90" stroke="#1c1c1c" stroke-width="1.0"/>
<text x="356.00" y="142.10" font-size="7.4" font-weight="bold" text-anchor="middle" fill="#1a1a1a" stroke="#1a1a1a" stroke-width="0.25">0.20</text>
<line x1="244.04" y1="132.60" x2="244.04" y2="133.90" stroke="#1c1c1c" stroke-width="0.9"/>
<line x1="268.92" y1="132.60" x2="268.92" y2="133.90" stroke="#1c1c1c" stroke-width="0.9"/>
<line x1="293.80" y1="132.60" x2="293.80" y2="133.90" stroke="#1c1c1c" stroke-width="0.9"/>
<line x1="318.68" y1="132.60" x2="318.68" y2="133.90" stroke="#1c1c1c" stroke-width="0.9"/>
<line x1="343.56" y1="132.60" x2="343.56" y2="133.90" stroke="#1c1c1c" stroke-width="0.9"/>
<text x="293.70" y="153.40" font-size="9.0" font-weight="bold" text-anchor="middle" fill="#1a1a1a" stroke="#1a1a1a" stroke-width="0.25">Protein concentration (mg/mL)</text>
<text x="201.60" y="74.20" font-size="9.0" font-weight="bold" text-anchor="middle" fill="#1a1a1a" stroke="#1a1a1a" stroke-width="0.25" transform="rotate(-90 201.60 74.20)">Absorbance at 595nm (a.u.)</text>
<text x="190.00" y="12.90" font-size="12.0" font-weight="bold" text-anchor="start" fill="#1a1a1a" stroke="#1a1a1a" stroke-width="0.25">(b)</text>
<polyline points="231.60,117.27 244.04,105.23 256.48,96.12 268.92,87.92 281.36,78.44 306.24,59.66 331.12,45.08 356.00,27.57" fill="none" stroke="#c69078" stroke-width="1.05"/>
<line x1="231.60" y1="116.17" x2="231.60" y2="118.36" stroke="#a8927c" stroke-width="0.85"/>
<line x1="229.90" y1="116.17" x2="233.30" y2="116.17" stroke="#a8927c" stroke-width="0.85"/>
<line x1="229.90" y1="118.36" x2="233.30" y2="118.36" stroke="#a8927c" stroke-width="0.85"/>
<rect x="229.85" y="115.52" width="3.5" height="3.5" fill="#bb9070"/>
<line x1="244.04" y1="101.59" x2="244.04" y2="108.88" stroke="#a8927c" stroke-width="0.85"/>
<line x1="242.34" y1="101.59" x2="245.74" y2="101.59" stroke="#a8927c" stroke-width="0.85"/>
<line x1="242.34" y1="108.88" x2="245.74" y2="108.88" stroke="#a8927c" stroke-width="0.85"/>
<rect x="242.29" y="103.48" width="3.5" height="3.5" fill="#bb9070"/>
<line x1="256.48" y1="92.47" x2="256.48" y2="99.77" stroke="#a8927c" stroke-width="0.85"/>
<line x1="254.78" y1="92.47" x2="258.18" y2="92.47" stroke="#a8927c" stroke-width="0.85"/>
<line x1="254.78" y1="99.77" x2="258.18" y2="99.77" stroke="#a8927c" stroke-width="0.85"/>
<rect x="254.73" y="94.37" width="3.5" height="3.5" fill="#bb9070"/>
<line x1="268.92" y1="83.54" x2="268.92" y2="92.29" stroke="#a8927c" stroke-width="0.85"/>
<line x1="267.22" y1="83.54" x2="270.62" y2="83.54" stroke="#a8927c" stroke-width="0.85"/>
<line x1="267.22" y1="92.29" x2="270.62" y2="92.29" stroke="#a8927c" stroke-width="0.85"/>
<rect x="267.17" y="86.17" width="3.5" height="3.5" fill="#bb9070"/>
<line x1="281.36" y1="74.79" x2="281.36" y2="82.08" stroke="#a8927c" stroke-width="0.85"/>
<line x1="279.66" y1="74.79" x2="283.06" y2="74.79" stroke="#a8927c" stroke-width="0.85"/>
<line x1="279.66" y1="82.08" x2="283.06" y2="82.08" stroke="#a8927c" stroke-width="0.85"/>
<rect x="279.61" y="76.69" width="3.5" height="3.5" fill="#bb9070"/>
<line x1="306.24" y1="54.19" x2="306.24" y2="65.13" stroke="#a8927c" stroke-width="0.85"/>
<line x1="304.54" y1="54.19" x2="307.94" y2="54.19" stroke="#a8927c" stroke-width="0.85"/>
<line x1="304.54" y1="65.13" x2="307.94" y2="65.13" stroke="#a8927c" stroke-width="0.85"/>
<rect x="304.49" y="57.91" width="3.5" height="3.5" fill="#bb9070"/>
<line x1="331.12" y1="37.78" x2="331.12" y2="52.37" stroke="#a8927c" stroke-width="0.85"/>
<line x1="329.42" y1="37.78" x2="332.82" y2="37.78" stroke="#a8927c" stroke-width="0.85"/>
<line x1="329.42" y1="52.37" x2="332.82" y2="52.37" stroke="#a8927c" stroke-width="0.85"/>
<rect x="329.37" y="43.33" width="3.5" height="3.5" fill="#bb9070"/>
<line x1="356.00" y1="19.92" x2="356.00" y2="35.23" stroke="#a8927c" stroke-width="0.85"/>
<line x1="354.30" y1="19.92" x2="357.70" y2="19.92" stroke="#a8927c" stroke-width="0.85"/>
<line x1="354.30" y1="35.23" x2="357.70" y2="35.23" stroke="#a8927c" stroke-width="0.85"/>
<rect x="354.25" y="25.82" width="3.5" height="3.5" fill="#bb9070"/>
<text x="304.70" y="108.20" font-size="6.1" font-weight="bold" text-anchor="start" fill="#1a1a1a" stroke="#1a1a1a" stroke-width="0.25">Y=2.4139X+0.5466</text>
<text x="304.70" y="117.10" font-size="6.1" font-weight="bold" text-anchor="start" fill="#1a1a1a" stroke="#1a1a1a" stroke-width="0.25">R<tspan font-size="4" dy="-2.5">2</tspan><tspan dy="2.5">=0.9976</tspan></text>
<rect x="32.9" y="164.3" width="149.40" height="127.70" fill="none" stroke="#1c1c1c" stroke-width="1.3"/>
<line x1="30.60" y1="292.00" x2="32.90" y2="292.00" stroke="#1c1c1c" stroke-width="1.0"/>
<text x="29.00" y="294.20" font-size="7.4" font-weight="bold" text-anchor="end" fill="#1a1a1a" stroke="#1a1a1a" stroke-width="0.25">0</text>
<line x1="30.60" y1="263.68" x2="32.90" y2="263.68" stroke="#1c1c1c" stroke-width="1.0"/>
<text x="29.00" y="265.88" font-size="7.4" font-weight="bold" text-anchor="end" fill="#1a1a1a" stroke="#1a1a1a" stroke-width="0.25">15</text>
<line x1="30.60" y1="235.36" x2="32.90" y2="235.36" stroke="#1c1c1c" stroke-width="1.0"/>
<text x="29.00" y="237.56" font-size="7.4" font-weight="bold" text-anchor="end" fill="#1a1a1a" stroke="#1a1a1a" stroke-width="0.25">30</text>
<line x1="30.60" y1="207.04" x2="32.90" y2="207.04" stroke="#1c1c1c" stroke-width="1.0"/>
<text x="29.00" y="209.24" font-size="7.4" font-weight="bold" text-anchor="end" fill="#1a1a1a" stroke="#1a1a1a" stroke-width="0.25">45</text>
<line x1="30.60" y1="178.72" x2="32.90" y2="178.72" stroke="#1c1c1c" stroke-width="1.0"/>
<text x="29.00" y="180.92" font-size="7.4" font-weight="bold" text-anchor="end" fill="#1a1a1a" stroke="#1a1a1a" stroke-width="0.25">60</text>
<line x1="31.60" y1="277.84" x2="32.90" y2="277.84" stroke="#1c1c1c" stroke-width="0.9"/>
<line x1="31.60" y1="249.52" x2="32.90" y2="249.52" stroke="#1c1c1c" stroke-width="0.9"/>
<line x1="31.60" y1="221.20" x2="32.90" y2="221.20" stroke="#1c1c1c" stroke-width="0.9"/>
<line x1="31.60" y1="192.88" x2="32.90" y2="192.88" stroke="#1c1c1c" stroke-width="0.9"/>
<line x1="70.25" y1="209.49" x2="70.25" y2="216.48" stroke="#b0abc8" stroke-width="0.9"/>
<line x1="68.65" y1="209.49" x2="71.85" y2="209.49" stroke="#b0abc8" stroke-width="0.9"/>
<rect x="62.25" y="216.48" width="16" height="75.52" fill="url(#hatch)" stroke="#cbc5de" stroke-width="0.9"/>
<line x1="70.25" y1="292.00" x2="70.25" y2="294.30" stroke="#1c1c1c" stroke-width="1.0"/>
<line x1="144.95" y1="174.57" x2="144.95" y2="179.66" stroke="#b0abc8" stroke-width="0.9"/>
<line x1="143.35" y1="174.57" x2="146.55" y2="174.57" stroke="#b0abc8" stroke-width="0.9"/>
<rect x="136.95" y="179.66" width="16" height="112.34" fill="url(#hatch)" stroke="#cbc5de" stroke-width="0.9"/>
<line x1="144.95" y1="292.00" x2="144.95" y2="294.30" stroke="#1c1c1c" stroke-width="1.0"/>
<rect x="32.9" y="164.3" width="149.40" height="127.70" fill="none" stroke="#1c1c1c" stroke-width="1.3"/>
<text x="70.40" y="303.00" font-size="8.4" font-weight="bold" text-anchor="middle" fill="#1a1a1a" stroke="#1a1a1a" stroke-width="0.25">Enzyme+ligand</text>
<text x="145.30" y="303.00" font-size="8.4" font-weight="bold" text-anchor="middle" fill="#1a1a1a" stroke="#1a1a1a" stroke-width="0.25">Enzyme+metal</text>
<text x="14.80" y="234.20" font-size="9.0" font-weight="bold" text-anchor="middle" fill="#1a1a1a" stroke="#1a1a1a" stroke-width="0.25" transform="rotate(-90 14.80 234.20)">Immobilization efficiency (%)</text>
<text x="3.70" y="166.70" font-size="12.0" font-weight="bold" text-anchor="start" fill="#1a1a1a" stroke="#1a1a1a" stroke-width="0.25">(c)</text>
<rect x="222.90" y="200.40" width="13.6" height="91.80" fill="url(#hatch)" stroke="#cbc5de" stroke-width="0.9"/>
<line x1="229.70" y1="196.40" x2="229.70" y2="200.40" stroke="#b0abc8" stroke-width="0.9"/>
<line x1="228.20" y1="196.40" x2="231.20" y2="196.40" stroke="#b0abc8" stroke-width="0.9"/>
<rect x="244.26" y="212.50" width="13.6" height="79.70" fill="url(#hatch)" stroke="#cbc5de" stroke-width="0.9"/>
<line x1="251.06" y1="207.90" x2="251.06" y2="212.50" stroke="#b0abc8" stroke-width="0.9"/>
<line x1="249.56" y1="207.90" x2="252.56" y2="207.90" stroke="#b0abc8" stroke-width="0.9"/>
<rect x="265.62" y="191.40" width="13.6" height="100.80" fill="url(#hatch)" stroke="#cbc5de" stroke-width="0.9"/>
<line x1="272.42" y1="187.40" x2="272.42" y2="191.40" stroke="#b0abc8" stroke-width="0.9"/>
<line x1="270.92" y1="187.40" x2="273.92" y2="187.40" stroke="#b0abc8" stroke-width="0.9"/>
<rect x="286.98" y="183.20" width="13.6" height="109.00" fill="url(#hatch)" stroke="#cbc5de" stroke-width="0.9"/>
<line x1="293.78" y1="179.20" x2="293.78" y2="183.20" stroke="#b0abc8" stroke-width="0.9"/>
<line x1="292.28" y1="179.20" x2="295.28" y2="179.20" stroke="#b0abc8" stroke-width="0.9"/>
<rect x="308.34" y="203.90" width="13.6" height="88.30" fill="url(#hatch)" stroke="#cbc5de" stroke-width="0.9"/>
<line x1="315.14" y1="200.50" x2="315.14" y2="203.90" stroke="#b0abc8" stroke-width="0.9"/>
<line x1="313.64" y1="200.50" x2="316.64" y2="200.50" stroke="#b0abc8" stroke-width="0.9"/>
<rect x="329.70" y="271.40" width="13.6" height="20.80" fill="url(#hatch)" stroke="#cbc5de" stroke-width="0.9"/>
<line x1="336.50" y1="263.20" x2="336.50" y2="271.40" stroke="#b0abc8" stroke-width="0.9"/>
<line x1="335.00" y1="263.20" x2="338.00" y2="263.20" stroke="#b0abc8" stroke-width="0.9"/>
<rect x="226.70" y="227.80" width="6.0" height="4.80" fill="#f8e0ea" opacity="0.55"/>
<line x1="229.70" y1="228.60" x2="229.70" y2="231.80" stroke="#a68e80" stroke-width="0.8"/>
<line x1="227.90" y1="228.60" x2="231.50" y2="228.60" stroke="#a68e80" stroke-width="0.9"/>
<line x1="227.90" y1="231.80" x2="231.50" y2="231.80" stroke="#b88a80" stroke-width="0.9"/>
<polygon points="227.60,231.80 231.80,231.80 229.70,228.20" fill="#b38a78"/>
<rect x="248.06" y="246.90" width="6.0" height="4.80" fill="#f8e0ea" opacity="0.55"/>
<line x1="251.06" y1="247.70" x2="251.06" y2="250.90" stroke="#a68e80" stroke-width="0.8"/>
<line x1="249.26" y1="247.70" x2="252.86" y2="247.70" stroke="#a68e80" stroke-width="0.9"/>
<line x1="249.26" y1="250.90" x2="252.86" y2="250.90" stroke="#b88a80" stroke-width="0.9"/>
<polygon points="248.96,250.90 253.16,250.90 251.06,247.30" fill="#b38a78"/>
<rect x="269.42" y="230.00" width="6.0" height="4.40" fill="#f8e0ea" opacity="0.55"/>
<line x1="272.42" y1="230.80" x2="272.42" y2="233.60" stroke="#a68e80" stroke-width="0.8"/>
<line x1="270.62" y1="230.80" x2="274.22" y2="230.80" stroke="#a68e80" stroke-width="0.9"/>
<line x1="270.62" y1="233.60" x2="274.22" y2="233.60" stroke="#b88a80" stroke-width="0.9"/>
<polygon points="270.32,233.80 274.52,233.80 272.42,230.20" fill="#b38a78"/>
<rect x="290.78" y="257.60" width="6.0" height="3.60" fill="#f8e0ea" opacity="0.55"/>
<line x1="293.78" y1="258.40" x2="293.78" y2="260.40" stroke="#a68e80" stroke-width="0.8"/>
<line x1="291.98" y1="258.40" x2="295.58" y2="258.40" stroke="#a68e80" stroke-width="0.9"/>
<line x1="291.98" y1="260.40" x2="295.58" y2="260.40" stroke="#b88a80" stroke-width="0.9"/>
<polygon points="291.68,261.00 295.88,261.00 293.78,257.40" fill="#b38a78"/>
<rect x="312.14" y="233.80" width="6.0" height="4.00" fill="#f8e0ea" opacity="0.55"/>
<line x1="315.14" y1="234.60" x2="315.14" y2="237.00" stroke="#a68e80" stroke-width="0.8"/>
<line x1="313.34" y1="234.60" x2="316.94" y2="234.60" stroke="#a68e80" stroke-width="0.9"/>
<line x1="313.34" y1="237.00" x2="316.94" y2="237.00" stroke="#b88a80" stroke-width="0.9"/>
<polygon points="313.04,237.40 317.24,237.40 315.14,233.80" fill="#b38a78"/>
<rect x="333.50" y="278.50" width="6.0" height="7.60" fill="#f8e0ea" opacity="0.55"/>
<line x1="336.50" y1="279.30" x2="336.50" y2="285.30" stroke="#a68e80" stroke-width="0.8"/>
<line x1="334.70" y1="279.30" x2="338.30" y2="279.30" stroke="#a68e80" stroke-width="0.9"/>
<line x1="334.70" y1="285.30" x2="338.30" y2="285.30" stroke="#b88a80" stroke-width="0.9"/>
<polygon points="334.40,283.90 338.60,283.90 336.50,280.30" fill="#b38a78"/>
<rect x="354.86" y="269.40" width="6.0" height="9.20" fill="#f8e0ea" opacity="0.55"/>
<line x1="357.86" y1="270.20" x2="357.86" y2="277.80" stroke="#a68e80" stroke-width="0.8"/>
<line x1="356.06" y1="270.20" x2="359.66" y2="270.20" stroke="#a68e80" stroke-width="0.9"/>
<line x1="356.06" y1="277.80" x2="359.66" y2="277.80" stroke="#b88a80" stroke-width="0.9"/>
<polygon points="355.76,275.60 359.96,275.60 357.86,272.00" fill="#b38a78"/>
<line x1="221.90" y1="165.10" x2="221.90" y2="291.20" stroke="#f4d4e0" stroke-width="0.9"/>
<line x1="218.90" y1="164.10" x2="368.50" y2="164.10" stroke="#1c1c1c" stroke-width="1.3"/>
<line x1="218.90" y1="292.20" x2="368.50" y2="292.20" stroke="#1c1c1c" stroke-width="1.3"/>
<line x1="218.90" y1="164.10" x2="218.90" y2="292.20" stroke="#c9a08c" stroke-width="1.3"/>
<line x1="368.50" y1="164.10" x2="368.50" y2="292.20" stroke="#c2bfdb" stroke-width="1.3"/>
<line x1="216.60" y1="292.20" x2="218.90" y2="292.20" stroke="#c9a08c" stroke-width="1.0"/>
<text x="214.00" y="294.00" font-size="7.4" font-weight="bold" text-anchor="end" fill="#d2ac8e">0</text>
<line x1="216.60" y1="255.90" x2="218.90" y2="255.90" stroke="#c9a08c" stroke-width="1.0"/>
<text x="214.00" y="257.70" font-size="7.4" font-weight="bold" text-anchor="end" fill="#d2ac8e">3</text>
<line x1="216.60" y1="219.60" x2="218.90" y2="219.60" stroke="#c9a08c" stroke-width="1.0"/>
<text x="214.00" y="221.40" font-size="7.4" font-weight="bold" text-anchor="end" fill="#d2ac8e">6</text>
<line x1="216.60" y1="183.30" x2="218.90" y2="183.30" stroke="#c9a08c" stroke-width="1.0"/>
<text x="214.00" y="185.10" font-size="7.4" font-weight="bold" text-anchor="end" fill="#d2ac8e">9</text>
<line x1="217.60" y1="274.05" x2="218.90" y2="274.05" stroke="#c9a08c" stroke-width="0.9"/>
<line x1="217.60" y1="237.75" x2="218.90" y2="237.75" stroke="#c9a08c" stroke-width="0.9"/>
<line x1="217.60" y1="201.45" x2="218.90" y2="201.45" stroke="#c9a08c" stroke-width="0.9"/>
<line x1="368.50" y1="291.80" x2="370.80" y2="291.80" stroke="#c2bfdb" stroke-width="1.0"/>
<text x="372.00" y="294.00" font-size="7.4" font-weight="bold" text-anchor="start" fill="#bebcd6">0</text>
<line x1="368.50" y1="263.50" x2="370.80" y2="263.50" stroke="#c2bfdb" stroke-width="1.0"/>
<text x="372.00" y="265.70" font-size="7.4" font-weight="bold" text-anchor="start" fill="#bebcd6">20</text>
<line x1="368.50" y1="235.20" x2="370.80" y2="235.20" stroke="#c2bfdb" stroke-width="1.0"/>
<text x="372.00" y="237.40" font-size="7.4" font-weight="bold" text-anchor="start" fill="#bebcd6">40</text>
<line x1="368.50" y1="206.90" x2="370.80" y2="206.90" stroke="#c2bfdb" stroke-width="1.0"/>
<text x="372.00" y="209.10" font-size="7.4" font-weight="bold" text-anchor="start" fill="#bebcd6">60</text>
<line x1="368.50" y1="178.60" x2="370.80" y2="178.60" stroke="#c2bfdb" stroke-width="1.0"/>
<text x="372.00" y="180.80" font-size="7.4" font-weight="bold" text-anchor="start" fill="#bebcd6">80</text>
<line x1="368.50" y1="277.65" x2="369.80" y2="277.65" stroke="#c2bfdb" stroke-width="0.9"/>
<line x1="368.50" y1="249.35" x2="369.80" y2="249.35" stroke="#c2bfdb" stroke-width="0.9"/>
<line x1="368.50" y1="221.05" x2="369.80" y2="221.05" stroke="#c2bfdb" stroke-width="0.9"/>
<line x1="368.50" y1="192.75" x2="369.80" y2="192.75" stroke="#c2bfdb" stroke-width="0.9"/>
<line x1="229.70" y1="292.20" x2="229.70" y2="294.50" stroke="#1c1c1c" stroke-width="1.0"/>
<text x="234.10" y="301.20" font-size="7.2" font-weight="bold" text-anchor="end" fill="#1a1a1a" stroke="#1a1a1a" stroke-width="0.25" transform="rotate(-25 234.10 301.20)">Ligand-1</text>
<line x1="251.06" y1="292.20" x2="251.06" y2="294.50" stroke="#1c1c1c" stroke-width="1.0"/>
<text x="255.46" y="301.20" font-size="7.2" font-weight="bold" text-anchor="end" fill="#1a1a1a" stroke="#1a1a1a" stroke-width="0.25" transform="rotate(-25 255.46 301.20)">Ligand-2</text>
<line x1="272.42" y1="292.20" x2="272.42" y2="294.50" stroke="#1c1c1c" stroke-width="1.0"/>
<text x="276.82" y="301.20" font-size="7.2" font-weight="bold" text-anchor="end" fill="#1a1a1a" stroke="#1a1a1a" stroke-width="0.25" transform="rotate(-25 276.82 301.20)">Ligand-3</text>
<line x1="293.78" y1="292.20" x2="293.78" y2="294.50" stroke="#1c1c1c" stroke-width="1.0"/>
<text x="298.18" y="301.20" font-size="7.2" font-weight="bold" text-anchor="end" fill="#1a1a1a" stroke="#1a1a1a" stroke-width="0.25" transform="rotate(-25 298.18 301.20)">Ligand-4</text>
<line x1="315.14" y1="292.20" x2="315.14" y2="294.50" stroke="#1c1c1c" stroke-width="1.0"/>
<text x="319.54" y="301.20" font-size="7.2" font-weight="bold" text-anchor="end" fill="#1a1a1a" stroke="#1a1a1a" stroke-width="0.25" transform="rotate(-25 319.54 301.20)">Ligand-5</text>
<line x1="336.50" y1="292.20" x2="336.50" y2="294.50" stroke="#1c1c1c" stroke-width="1.0"/>
<text x="340.90" y="301.20" font-size="7.2" font-weight="bold" text-anchor="end" fill="#1a1a1a" stroke="#1a1a1a" stroke-width="0.25" transform="rotate(-25 340.90 301.20)">Ligand-6</text>
<line x1="357.86" y1="292.20" x2="357.86" y2="294.50" stroke="#1c1c1c" stroke-width="1.0"/>
<text x="362.26" y="301.20" font-size="7.2" font-weight="bold" text-anchor="end" fill="#1a1a1a" stroke="#1a1a1a" stroke-width="0.25" transform="rotate(-25 362.26 301.20)">Ligand-7</text>
<polygon points="225.40,171.40 229.80,171.40 227.60,167.60" fill="#b89a80"/>
<rect x="222.2" y="173.4" width="12.2" height="5.7" fill="url(#hatchL)" stroke="#dcc4d8" stroke-width="0.8"/>
<text x="236.40" y="171.80" font-size="5.7" font-weight="bold" text-anchor="start" fill="#1a1a1a" stroke="#1a1a1a" stroke-width="0.25">Loading capacity</text>
<text x="236.40" y="178.40" font-size="5.7" font-weight="bold" text-anchor="start" fill="#1a1a1a" stroke="#1a1a1a" stroke-width="0.25">Immobilization efficiency</text>
<text x="201.60" y="228.40" font-size="9.0" font-weight="bold" text-anchor="middle" fill="#1a1a1a" stroke="#1a1a1a" stroke-width="0.25" transform="rotate(-90 201.60 228.40)">Loading capacity (%)</text>
<text x="389.60" y="227.80" font-size="8.5" font-weight="bold" text-anchor="middle" fill="#1a1a1a" stroke="#1a1a1a" stroke-width="0.25" transform="rotate(-90 389.60 227.80)">Immobilization efficiency (%)</text>
<text x="189.70" y="166.70" font-size="12.0" font-weight="bold" text-anchor="start" fill="#1a1a1a" stroke="#1a1a1a" stroke-width="0.25">(d)</text>
</svg></body></html>
